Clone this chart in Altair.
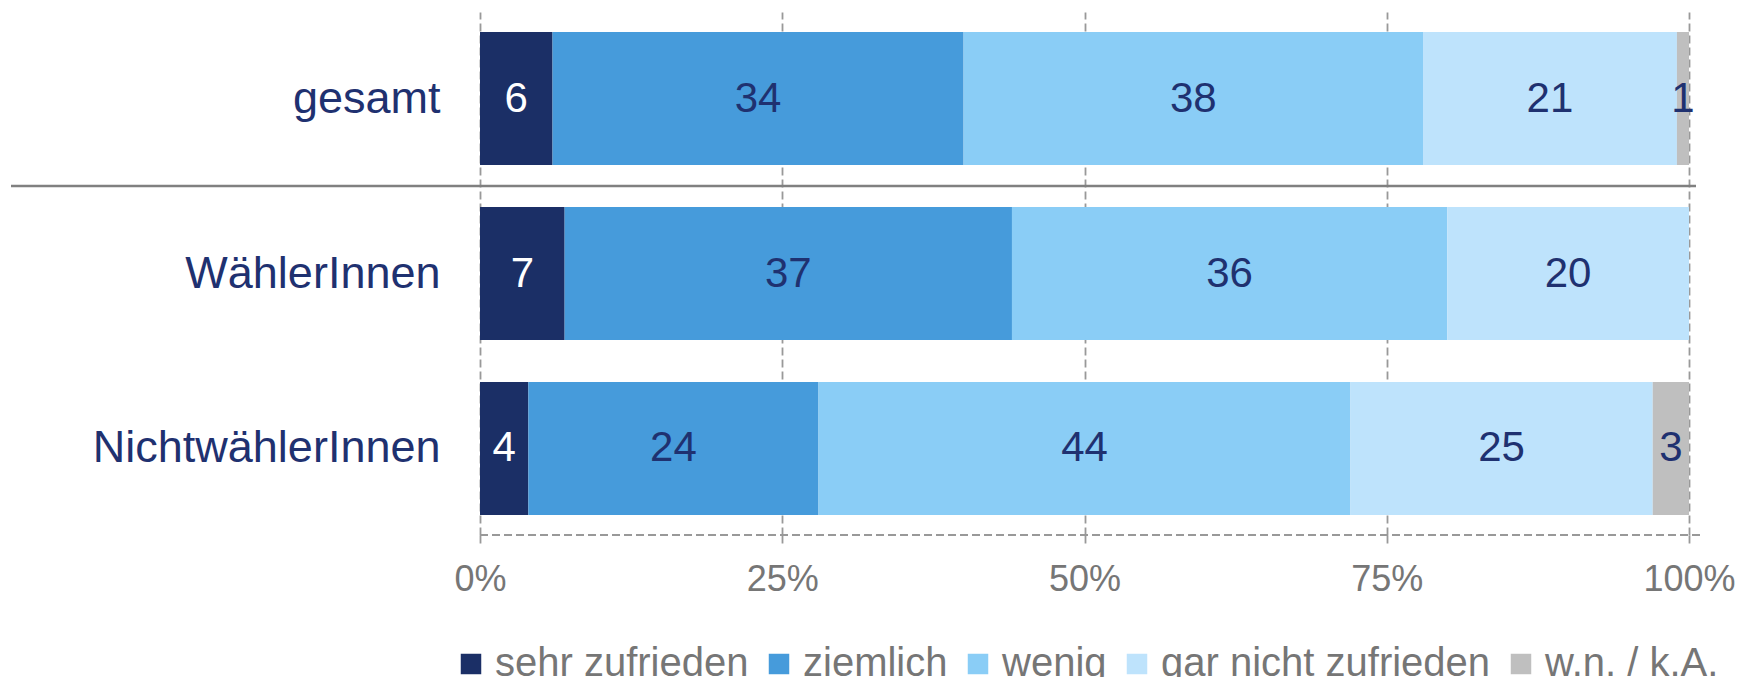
import altair as alt
import pandas as pd

groups = ["gesamt", "WählerInnen", "NichtwählerInnen"]
categories = ["sehr zufrieden", "ziemlich", "wenig", "gar nicht zufrieden", "w.n. / k.A."]
colors = ["#1B2F66", "#469BDB", "#8ACDF6", "#BEE3FC", "#BFBFBF"]
gesamt = [6, 34, 38, 21, 1]
waehler = [7, 37, 36, 20, 0]
nichtwaehler = [4, 24, 44, 25, 3]
x_ticks = [0, 25, 50, 75, 100]

rows = []
for g, vals in zip(groups, [gesamt, waehler, nichtwaehler]):
    for i, (c, v) in enumerate(zip(categories, vals)):
        if v > 0:
            rows.append(dict(group=g, cat=c, order=i, value=v))
df = pd.DataFrame(rows)

FONT = "Liberation Sans"
NAVY = "#1F3170"
GRAY_TXT = "#767676"
GRID = "#999999"

base = alt.Chart(df).transform_stack(
    stack="value", groupby=["group"], as_=["x0", "x1"],
    sort=[alt.SortField("order", order="ascending")]
)

yenc = alt.Y(
    "group:N", sort=groups, title=None,
    scale=alt.Scale(paddingInner=0.24, paddingOuter=0.1143),
    axis=alt.Axis(domain=False, ticks=False, tickSize=0, labelFontSize=45,
                  labelColor=NAVY, labelFont=FONT, labelPadding=40,
                  labelLimit=600, grid=False),
)

bars = base.mark_bar(strokeWidth=0).encode(
    x=alt.X("x0:Q", title=None,
            scale=alt.Scale(domain=[0, 100], nice=False),
            axis=alt.Axis(values=x_ticks, labelExpr="datum.value + '%'",
                          grid=True, gridDash=[8, 4], gridColor=GRID, gridWidth=1.8,
                          domain=False, ticks=True, tickDash=[8, 4], tickColor=GRID,
                          tickWidth=1.8, tickSize=12, labelFontSize=36,
                          labelFlush=False, labelOverlap=False,
                          labelColor=GRAY_TXT, labelFont=FONT, labelPadding=15)),
    x2="x1:Q",
    y=yenc,
    color=alt.Color("cat:N", title=None,
                    scale=alt.Scale(domain=categories, range=colors),
                    legend=alt.Legend(orient="none", legendX=-29, legendY=632,
                                      direction="horizontal", symbolType="square",
                                      symbolSize=420, symbolStrokeWidth=0,
                                      labelFontSize=40, labelColor=GRAY_TXT,
                                      labelFont=FONT, labelOffset=4,
                                      columnPadding=10, padding=0,
                                      labelLimit=600)),
)

text = base.transform_calculate(
    mid="(datum.x0 + datum.x1) / 2"
).mark_text(fontSize=42, font=FONT, baseline="middle", align="center").encode(
    x=alt.X("mid:Q"),
    y=alt.Y("group:N", sort=groups),
    text=alt.Text("value:Q"),
    color=alt.condition(alt.datum.order == 0, alt.value("white"), alt.value(NAVY)),
)

sep = alt.Chart(pd.DataFrame({"a": [0]})).mark_rule(
    color="#808080", strokeWidth=2.5
).encode(x=alt.value(-469), x2=alt.value(1216), y=alt.value(174))

dom = alt.Chart(pd.DataFrame({"a": [0]})).mark_rule(
    color=GRID, strokeWidth=1.8, strokeDash=[8, 4]
).encode(x=alt.value(0), x2=alt.value(1222), y=alt.value(523))

chart = alt.layer(bars, text, sep, dom).properties(
    width=1209, height=523,
    autosize=alt.AutoSizeParams(type="none"),
    padding={"left": 472, "top": 4, "right": 55, "bottom": 142},
).configure_view(stroke=None)

chart.save("out.html", embed_options={"renderer": "svg", "actions": False})
